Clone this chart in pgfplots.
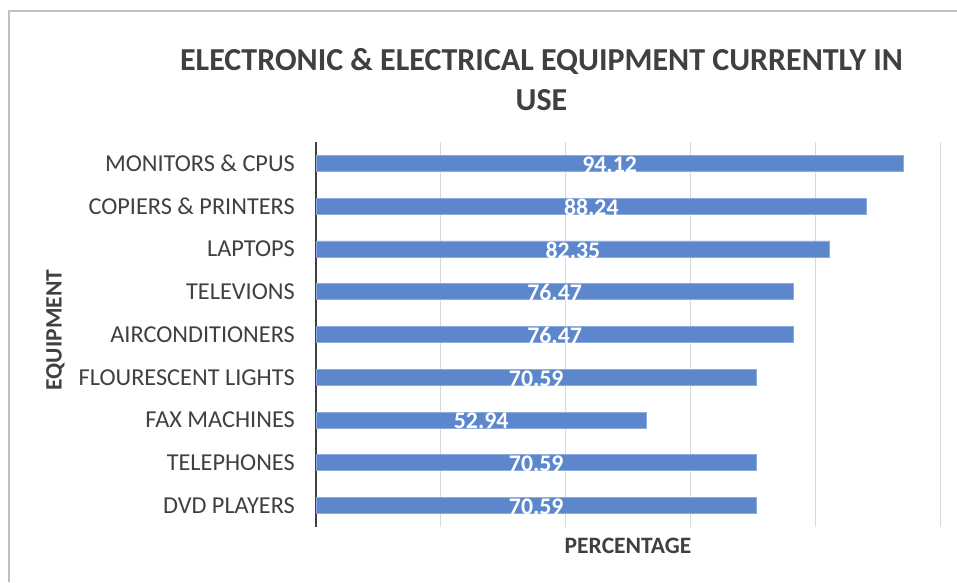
\documentclass[border=0pt]{standalone}
\usepackage{pgfplots}
\pgfplotsset{compat=1.18}
\usepackage{pgfplotstable}
\usepackage{fontspec}
\setmainfont{Carlito}
\definecolor{barblue}{RGB}{92,135,205}
\definecolor{baredge}{RGB}{143,170,220}
\definecolor{txt}{RGB}{64,64,64}
\definecolor{gridc}{RGB}{217,217,217}
\pgfplotstableread{
idx val
0 94.12
1 88.24
2 82.35
3 76.47
4 76.47
5 70.59
6 52.94
7 70.59
8 70.59
}\datatable
\begin{document}
\begin{tikzpicture}[x=1pt,y=1pt]
\useasboundingbox (0,0) rectangle (957,582);
\fill[white] (0,0) rectangle (957,582);
\draw[black!25, line width=1.5pt] (9,0) -- (9,571) -- (957,571);
\begin{axis}[
  at={(316pt,55pt)}, anchor=south west,
  scale only axis, width=624pt, height=385pt,
  xmin=0, xmax=100, ymin=-0.5, ymax=8.5, y dir=reverse,
  axis line style={draw=none},
  xtick={20,40,60,80,100}, xticklabels={},
  xmajorgrids, grid style={draw=gridc, line width=1pt},
  extra x ticks={0}, extra x tick labels={},
  extra x tick style={grid style={draw=txt, line width=2.8pt}},
  major tick length=0pt, tick style={draw=none},
  ytick={0,...,8},
  yticklabels={MONITORS \& CPUS, COPIERS \& PRINTERS, LAPTOPS, TELEVIONS, AIRCONDITIONERS, FLOURESCENT LIGHTS, FAX MACHINES, TELEPHONES, DVD PLAYERS},
  yticklabel style={font=\fontsize{24.3}{24.3}\selectfont, text=txt, inner sep=0pt, anchor=east, xshift=-21pt},
  clip=false,
]
\addplot[xbar, bar width=16pt, bar shift=0pt, fill=barblue, draw=baredge, line width=0.8pt]
  table[x=val, y=idx] {\datatable};
\addplot[draw=none, mark=none, nodes near coords={\pgfmathprintnumber[fixed,fixed zerofill,precision=2,assume math mode=true]{\pgfplotspointmeta}},
  point meta=explicit,
  every node near coord/.append style={anchor=center, text=white, inner sep=0pt, yshift=-1pt, font=\bfseries\fontsize{23.8}{23.8}\selectfont}]
  table[x expr=\thisrow{val}/2, y=idx, meta=val] {\datatable};
\end{axis}
\node[font=\bfseries\fontsize{32}{40}\selectfont, text=txt, align=center] at (541.5,502) {ELECTRONIC \& ELECTRICAL EQUIPMENT CURRENTLY IN\\USE};
\node[font=\bfseries\fontsize{23.5}{23.5}\selectfont, text=txt, rotate=90] at (55.5,252) {EQUIPMENT};
\node[font=\bfseries\fontsize{23.5}{23.5}\selectfont, text=txt] at (628,36.3) {PERCENTAGE};
\end{tikzpicture}
\end{document}
